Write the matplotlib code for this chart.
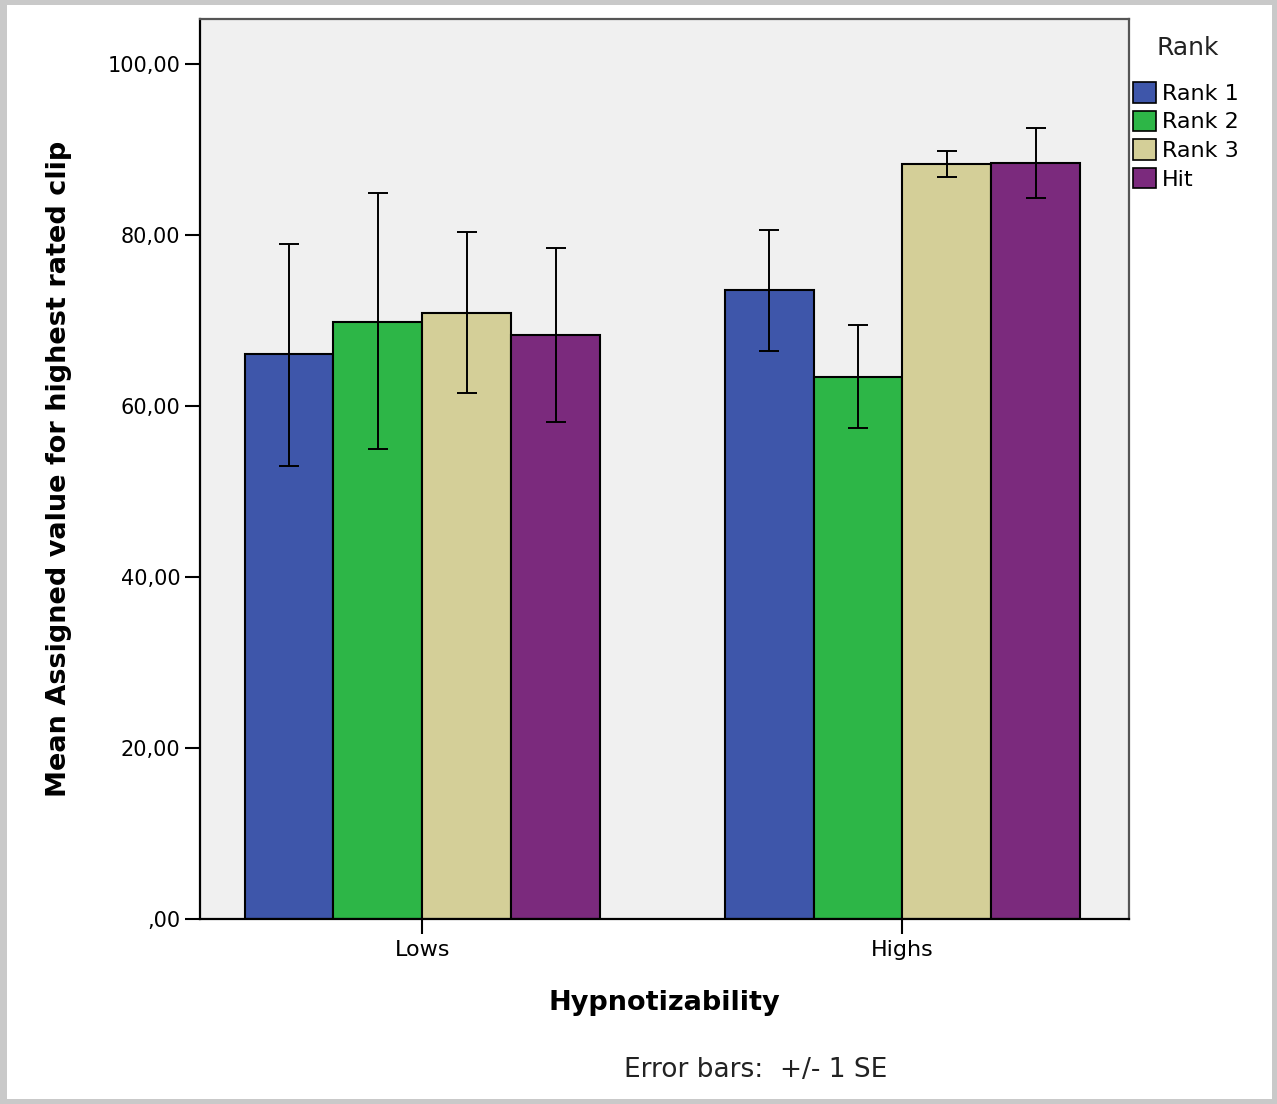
import matplotlib
matplotlib.use("Agg")
import matplotlib.pyplot as plt
import numpy as np
from matplotlib.patches import Rectangle, Patch

groups = ["Lows", "Highs"]
series = ["Rank 1", "Rank 2", "Rank 3", "Hit"]
means = {
    "Rank 1": [66.1, 73.6],
    "Rank 2": [69.9, 63.4],
    "Rank 3": [70.9, 88.3],
    "Hit":    [68.3, 88.4],
}
err_low = {
    "Rank 1": [53.0, 66.5],
    "Rank 2": [55.0, 57.4],
    "Rank 3": [61.5, 86.8],
    "Hit":    [58.1, 84.4],
}
err_high = {
    "Rank 1": [79.0, 80.6],
    "Rank 2": [85.0, 69.5],
    "Rank 3": [80.4, 89.9],
    "Hit":    [78.5, 92.5],
}
yticks = [0, 20, 40, 60, 80, 100]
ytick_labels = [",00", "20,00", "40,00", "60,00", "80,00", "100,00"]
colors = ["#3E56AA", "#2DB647", "#D4CF98", "#7B2A7D"]

plt.rcParams["font.family"] = ["DejaVu Sans"]

fig = plt.figure(figsize=(12.77, 11.04), dpi=100)
fig.patch.set_facecolor("#C9C9C9")
bg = Rectangle((7/1277, 5/1104), 1 - 12/1277, 1 - 10/1104,
               transform=fig.transFigure, facecolor="white",
               edgecolor="none", zorder=-10)
fig.add_artist(bg)

ax = fig.add_axes([200/1277, 1 - 919/1104, (1129 - 200)/1277, (919 - 19)/1104])
ax.set_zorder(1)
ax.set_facecolor("#F0F0F0")

x = np.arange(len(groups))
w = 0.185
offsets = (np.arange(len(series)) - 1.5) * w
for i, s in enumerate(series):
    m = np.array(means[s])
    lo = m - np.array(err_low[s])
    hi = np.array(err_high[s]) - m
    ax.bar(x + offsets[i], m, width=w, color=colors[i], edgecolor="black",
           linewidth=1.5, zorder=2)
    ax.errorbar(x + offsets[i], m, yerr=[lo, hi], fmt="none", ecolor="black",
                elinewidth=1.4, capsize=7, capthick=1.4, zorder=3)

ax.set_xlim(-0.463, 1.472)
ax.set_ylim(0, 105.3)
ax.set_yticks(yticks)
ax.set_yticklabels(ytick_labels)
ax.set_xticks(x)
ax.set_xticklabels(groups)
ax.tick_params(axis="both", direction="out", length=11, width=1.5,
               labelsize=15, colors="black", pad=3)
ax.tick_params(axis="x", pad=4, labelsize=16)
for side in ["left", "bottom"]:
    ax.spines[side].set_color("black")
    ax.spines[side].set_linewidth(1.6)
for side in ["top", "right"]:
    ax.spines[side].set_color("#555555")
    ax.spines[side].set_linewidth(1.6)

ax.set_ylabel("Mean Assigned value for highest rated clip", fontsize=19.5,
              fontweight="bold", labelpad=26)
ax.set_xlabel("Hypnotizability", fontsize=19.5, fontweight="bold", labelpad=22)

handles = [Patch(facecolor=c, edgecolor="black", linewidth=1.2) for c in colors]
leg = fig.legend(handles, series, loc="upper left",
                 bbox_to_anchor=(1133/1277, 1 - 82/1104), frameon=False,
                 fontsize=16, handlelength=1.05, handleheight=1.05,
                 handletextpad=0.25, labelspacing=0.3, borderaxespad=0,
                 borderpad=0)
fig.text(1188/1277, 1 - 48/1104, "Rank", fontsize=18, ha="center",
         va="center", color="#222222")

fig.text(756/1277, 1 - 1070/1104, "Error bars:  +/- 1 SE", fontsize=19,
         ha="center", va="center", color="#222222")

fig.savefig("out.png", dpi=100)
